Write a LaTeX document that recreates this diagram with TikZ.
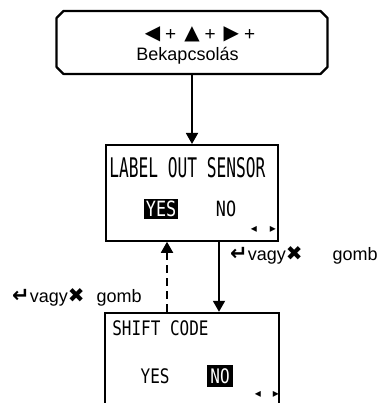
\documentclass[tikz,border=0pt]{standalone}
\usepackage{fontspec}
\setmainfont{Liberation Sans}
\newfontfamily\symfont{DejaVu Sans}
\newfontfamily\lcdtall[FakeStretch=0.6]{DejaVu Sans Mono}
\newfontfamily\lcdfont[FakeStretch=0.8]{DejaVu Sans Mono}
\usetikzlibrary{calc,positioning,arrows.meta}

\newcommand{\enterkey}{{\symfont\bfseries\fontsize{21}{21}\selectfont ↵}}
\newcommand{\cancelkey}{{\symfont\fontsize{20}{20}\selectfont ✖}}
\newcommand{\arrowkey}[1]{\raisebox{1.5pt}{\symfont\fontsize{20}{20}\selectfont #1}\hspace{5pt}+}

\begin{document}
\begin{tikzpicture}[
  x=1pt, y=1pt,
  node distance=70pt,
  startbox/.style={rectangle, minimum width=271pt, minimum height=63pt, inner sep=0pt, outer sep=0pt},
  startline/.style={line width=2.2pt, line join=round},
  lcdbox/.style={rectangle, draw, line width=1.8pt, minimum width=172pt, minimum height=96pt, inner sep=0pt},
  lcdtitle/.style={anchor=base west, inner sep=0pt},
  lcdsel/.style={anchor=base, fill=black, text=white, inner sep=2pt},
  lcdopt/.style={anchor=base, inner sep=0pt},
  scrollmark/.style={font=\symfont\fontsize{12}{12}\selectfont, inner sep=0pt},
  arr/.style={-{Triangle[length=11pt,width=12pt]}, line width=1.8pt},
  keylabel/.style={font=\fontsize{18}{20}\selectfont, anchor=base west, inner sep=0pt}
]
  \clip (0,0) rectangle (380,403);
  % power-on box
  \node[startbox] (power) at (192,360.5) {};
  \draw[startline] ($(power.north west)+(7,0)$) -- ($(power.north east)+(-7,0)$)
    -- ($(power.north east)+(0,-7)$) -- ($(power.south east)+(0,7)$)
    -- ($(power.south east)+(-7,0)$) -- ($(power.south west)+(7,0)$)
    -- ($(power.south west)+(0,7)$) -- ($(power.north west)+(0,-7)$) -- cycle;
  \node[font=\fontsize{19}{19}\selectfont, inner sep=0pt] (keys) at ($(power.center)+(8,8.5)$)
    {\arrowkey{◀}\hspace{8pt}\arrowkey{▲}\hspace{8pt}\arrowkey{▶}};
  \node[font=\fontsize{18}{20}\selectfont, anchor=base, inner sep=0pt] (poweron)
    at ($(power.center)+(-4.5,-18.5)$) {Bekapcsolás};
  % first display
  \node[lcdbox, below=of power] (sensor) {};
  \node[lcdtitle, font=\lcdtall\fontsize{27}{27}\selectfont] (sensortitle)
    at ($(sensor.north west)+(4,-34)$) {LABEL OUT SENSOR};
  \node[lcdsel, font=\lcdfont\fontsize{21}{21}\selectfont] (sensoryes)
    at ($(sensor.south west)+(56,25)$) {YES};
  \node[lcdopt, font=\lcdfont\fontsize{21}{21}\selectfont] (sensorno)
    at ($(sensor.south west)+(121,25)$) {NO};
  \node[scrollmark] (sensorleft) at ($(sensor.south east)+(-25,12)$) {◂};
  \node[scrollmark] (sensorright) at ($(sensor.south east)+(-6,12)$) {▸};
  % second display
  \node[lcdbox, minimum width=174pt, minimum height=100pt, below=of sensor] (shift) {};
  \node[lcdtitle, font=\lcdfont\fontsize{20}{20}\selectfont] (shifttitle)
    at ($(shift.north west)+(8,-24)$) {SHIFT CODE};
  \node[lcdopt, font=\lcdfont\fontsize{20}{20}\selectfont] (shiftyes)
    at ($(shift.north west)+(51,-72)$) {YES};
  \node[lcdsel, inner sep=3.5pt, font=\lcdfont\fontsize{20}{20}\selectfont] (shiftno)
    at ($(shift.north west)+(116,-71.5)$) {NO};
  \node[scrollmark] (shiftleft) at ($(shift.north east)+(-22,-83)$) {◂};
  \node[scrollmark] (shiftright) at ($(shift.north east)+(-4,-83)$) {▸};
  % connectors
  \draw[arr] (power.south) -- (sensor.north);
  \draw[arr] ([xshift=27pt]sensor.south) -- ([xshift=27pt]shift.north);
  \draw[arr, dash pattern=on 8pt off 5pt] ([xshift=-25pt]shift.north) -- ([xshift=-25pt]sensor.south);
  % key labels
  \node[keylabel] (nextkey) at ($(sensor.south)+(38,-19)$)
    {\enterkey vagy\cancelkey\hspace{30pt}gomb};
  \node[keylabel] (backkey) at ($(shift.north)+(-180,9)$)
    {\enterkey vagy\cancelkey\hspace{12pt}gomb};
\end{tikzpicture}
\end{document}
